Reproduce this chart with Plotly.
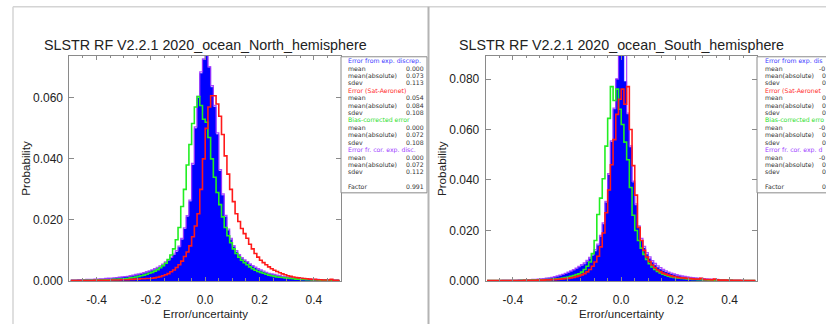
import plotly.graph_objects as go

W, H = 826, 331

# ---------------- data ----------------
bin_centers = [round(-0.495 + 0.01 * i, 3) for i in range(100)]

north_title = "SLSTR RF V2.2.1 2020_ocean_North_hemisphere"
south_title = "SLSTR RF V2.2.1 2020_ocean_South_hemisphere"

x_tickvals = [-0.4, -0.2, 0.0, 0.2, 0.4]
x_ticktext = ["-0.4", "-0.2", "0.0", "0.2", "0.4"]
north_y_tickvals = [0.0, 0.02, 0.04, 0.06]
north_y_ticktext = ["0.000", "0.020", "0.040", "0.060"]
south_y_tickvals = [0.0, 0.02, 0.04, 0.06, 0.08]
south_y_ticktext = ["0.000", "0.020", "0.040", "0.060", "0.080"]

north_blue = [
    0.0002, 0.0002, 0.0002, 0.0003, 0.0003, 0.0003, 0.0004, 0.0004, 0.0004, 0.0005,
    0.0005, 0.0006, 0.0006, 0.0007, 0.0008, 0.0008, 0.0009, 0.0010, 0.0011, 0.0012,
    0.0013, 0.0014, 0.0015, 0.0017, 0.0019, 0.0021, 0.0023, 0.0025, 0.0028, 0.0031,
    0.0034, 0.0037, 0.0041, 0.0046, 0.0052, 0.0059, 0.0066, 0.0075, 0.0085, 0.0095,
    0.0110, 0.0135, 0.0170, 0.0210, 0.0260, 0.0380, 0.0500, 0.0600, 0.0680, 0.0725,
    0.0760, 0.0700, 0.0635, 0.0570, 0.0480, 0.0360, 0.0280, 0.0210, 0.0165, 0.0135,
    0.0112, 0.0095, 0.0083, 0.0073, 0.0066, 0.0061, 0.0053, 0.0047, 0.0042, 0.0037,
    0.0033, 0.0029, 0.0026, 0.0023, 0.0021, 0.0019, 0.0017, 0.0015, 0.0013, 0.0012,
    0.0011, 0.0010, 0.0009, 0.0008, 0.0007, 0.0007, 0.0006, 0.0005, 0.0005, 0.0004,
    0.0004, 0.0004, 0.0003, 0.0003, 0.0003, 0.0002, 0.0002, 0.0002, 0.0002, 0.0001,
]
north_purple = [
    0.0003, 0.0003, 0.0003, 0.0004, 0.0004, 0.0004, 0.0005, 0.0005, 0.0005, 0.0006,
    0.0006, 0.0007, 0.0007, 0.0008, 0.0009, 0.0009, 0.0010, 0.0011, 0.0012, 0.0013,
    0.0014, 0.0015, 0.0017, 0.0019, 0.0021, 0.0023, 0.0025, 0.0027, 0.0030, 0.0033,
    0.0036, 0.0040, 0.0044, 0.0049, 0.0055, 0.0062, 0.0069, 0.0078, 0.0088, 0.0099,
    0.0114, 0.0139, 0.0174, 0.0214, 0.0265, 0.0385, 0.0505, 0.0605, 0.0685, 0.0728,
    0.0758, 0.0702, 0.0640, 0.0575, 0.0485, 0.0365, 0.0285, 0.0215, 0.0170, 0.0139,
    0.0116, 0.0099, 0.0086, 0.0076, 0.0069, 0.0063, 0.0056, 0.0050, 0.0045, 0.0040,
    0.0036, 0.0032, 0.0028, 0.0025, 0.0023, 0.0021, 0.0019, 0.0017, 0.0015, 0.0014,
    0.0012, 0.0011, 0.0010, 0.0009, 0.0008, 0.0008, 0.0007, 0.0006, 0.0006, 0.0005,
    0.0005, 0.0005, 0.0004, 0.0004, 0.0004, 0.0003, 0.0003, 0.0003, 0.0003, 0.0002,
]
north_green = [
    0.0001, 0.0001, 0.0001, 0.0001, 0.0001, 0.0002, 0.0002, 0.0002, 0.0002, 0.0002,
    0.0003, 0.0003, 0.0003, 0.0004, 0.0004, 0.0004, 0.0005, 0.0005, 0.0006, 0.0006,
    0.0007, 0.0008, 0.0010, 0.0011, 0.0013, 0.0015, 0.0017, 0.0019, 0.0022, 0.0025,
    0.0028, 0.0032, 0.0037, 0.0043, 0.0050, 0.0058, 0.0070, 0.0085, 0.0105, 0.0135,
    0.0175, 0.0244, 0.0300, 0.0380, 0.0447, 0.0516, 0.0570, 0.0604, 0.0575, 0.0530,
    0.0520, 0.0470, 0.0400, 0.0340, 0.0290, 0.0250, 0.0210, 0.0175, 0.0148, 0.0125,
    0.0105, 0.0090, 0.0078, 0.0068, 0.0060, 0.0053, 0.0046, 0.0040, 0.0035, 0.0031,
    0.0028, 0.0025, 0.0022, 0.0019, 0.0017, 0.0015, 0.0013, 0.0012, 0.0011, 0.0010,
    0.0009, 0.0008, 0.0007, 0.0006, 0.0006, 0.0005, 0.0005, 0.0004, 0.0004, 0.0003,
    0.0003, 0.0003, 0.0002, 0.0002, 0.0002, 0.0002, 0.0001, 0.0001, 0.0001, 0.0001,
]
north_red = [
    0.0001, 0.0001, 0.0001, 0.0001, 0.0001, 0.0001, 0.0001, 0.0001, 0.0001, 0.0002,
    0.0002, 0.0002, 0.0002, 0.0002, 0.0002, 0.0003, 0.0003, 0.0003, 0.0003, 0.0004,
    0.0004, 0.0004, 0.0005, 0.0005, 0.0006, 0.0006, 0.0007, 0.0007, 0.0008, 0.0008,
    0.0009, 0.0010, 0.0012, 0.0014, 0.0017, 0.0020, 0.0024, 0.0030, 0.0036, 0.0044,
    0.0053, 0.0065, 0.0080, 0.0095, 0.0115, 0.0145, 0.0180, 0.0220, 0.0300, 0.0400,
    0.0500, 0.0570, 0.0607, 0.0607, 0.0580, 0.0540, 0.0480, 0.0410, 0.0350, 0.0300,
    0.0260, 0.0220, 0.0195, 0.0172, 0.0155, 0.0140, 0.0120, 0.0105, 0.0090, 0.0078,
    0.0068, 0.0060, 0.0053, 0.0046, 0.0040, 0.0035, 0.0031, 0.0027, 0.0023, 0.0020,
    0.0017, 0.0015, 0.0013, 0.0011, 0.0010, 0.0009, 0.0008, 0.0007, 0.0006, 0.0005,
    0.0005, 0.0004, 0.0004, 0.0003, 0.0003, 0.0003, 0.0005, 0.0002, 0.0002, 0.0001,
]

south_blue = [
    0.0001, 0.0001, 0.0001, 0.0001, 0.0001, 0.0001, 0.0002, 0.0002, 0.0002, 0.0002,
    0.0002, 0.0002, 0.0003, 0.0003, 0.0003, 0.0004, 0.0004, 0.0005, 0.0005, 0.0006,
    0.0007, 0.0008, 0.0010, 0.0011, 0.0013, 0.0015, 0.0018, 0.0021, 0.0024, 0.0028,
    0.0032, 0.0037, 0.0042, 0.0048, 0.0054, 0.0060, 0.0066, 0.0076, 0.0088, 0.0100,
    0.0118, 0.0140, 0.0175, 0.0225, 0.0310, 0.0420, 0.0550, 0.0680, 0.0800, 0.0950,
    0.0920, 0.0790, 0.0660, 0.0530, 0.0390, 0.0300, 0.0210, 0.0160, 0.0130, 0.0105,
    0.0088, 0.0073, 0.0062, 0.0053, 0.0046, 0.0040, 0.0035, 0.0031, 0.0027, 0.0024,
    0.0021, 0.0019, 0.0017, 0.0015, 0.0013, 0.0012, 0.0011, 0.0010, 0.0009, 0.0008,
    0.0007, 0.0006, 0.0006, 0.0005, 0.0005, 0.0004, 0.0004, 0.0003, 0.0003, 0.0003,
    0.0003, 0.0002, 0.0002, 0.0002, 0.0002, 0.0002, 0.0001, 0.0001, 0.0001, 0.0001,
]
south_purple = [
    0.0002, 0.0002, 0.0002, 0.0002, 0.0002, 0.0002, 0.0003, 0.0003, 0.0003, 0.0003,
    0.0003, 0.0003, 0.0004, 0.0004, 0.0004, 0.0005, 0.0005, 0.0006, 0.0006, 0.0007,
    0.0008, 0.0009, 0.0011, 0.0012, 0.0014, 0.0017, 0.0020, 0.0023, 0.0026, 0.0030,
    0.0035, 0.0040, 0.0045, 0.0051, 0.0058, 0.0064, 0.0071, 0.0081, 0.0093, 0.0106,
    0.0124, 0.0146, 0.0180, 0.0230, 0.0315, 0.0425, 0.0555, 0.0685, 0.0800, 0.0930,
    0.0950, 0.0900, 0.0665, 0.0535, 0.0395, 0.0305, 0.0218, 0.0168, 0.0137, 0.0112,
    0.0095, 0.0080, 0.0069, 0.0060, 0.0053, 0.0046, 0.0040, 0.0035, 0.0031, 0.0028,
    0.0025, 0.0022, 0.0020, 0.0018, 0.0016, 0.0014, 0.0013, 0.0012, 0.0011, 0.0010,
    0.0009, 0.0008, 0.0007, 0.0007, 0.0006, 0.0006, 0.0005, 0.0005, 0.0004, 0.0004,
    0.0004, 0.0003, 0.0003, 0.0003, 0.0003, 0.0002, 0.0002, 0.0002, 0.0002, 0.0002,
]
south_green = [
    0.0001, 0.0001, 0.0001, 0.0001, 0.0001, 0.0001, 0.0001, 0.0001, 0.0001, 0.0001,
    0.0001, 0.0001, 0.0001, 0.0002, 0.0002, 0.0002, 0.0002, 0.0003, 0.0003, 0.0003,
    0.0004, 0.0004, 0.0005, 0.0005, 0.0006, 0.0007, 0.0008, 0.0009, 0.0011, 0.0013,
    0.0015, 0.0018, 0.0021, 0.0025, 0.0028, 0.0035, 0.0045, 0.0058, 0.0075, 0.0108,
    0.0160, 0.0263, 0.0328, 0.0405, 0.0534, 0.0644, 0.0770, 0.0715, 0.0760, 0.0680,
    0.0620, 0.0550, 0.0480, 0.0370, 0.0260, 0.0200, 0.0160, 0.0130, 0.0105, 0.0085,
    0.0068, 0.0055, 0.0045, 0.0038, 0.0032, 0.0027, 0.0023, 0.0019, 0.0016, 0.0014,
    0.0012, 0.0011, 0.0010, 0.0009, 0.0008, 0.0007, 0.0006, 0.0006, 0.0005, 0.0005,
    0.0004, 0.0004, 0.0003, 0.0003, 0.0003, 0.0003, 0.0002, 0.0002, 0.0002, 0.0002,
    0.0002, 0.0001, 0.0001, 0.0001, 0.0001, 0.0001, 0.0001, 0.0001, 0.0001, 0.0001,
]
south_red = [
    0.0001, 0.0001, 0.0001, 0.0001, 0.0001, 0.0001, 0.0001, 0.0001, 0.0001, 0.0001,
    0.0001, 0.0001, 0.0001, 0.0001, 0.0002, 0.0002, 0.0002, 0.0002, 0.0002, 0.0003,
    0.0003, 0.0003, 0.0004, 0.0004, 0.0005, 0.0005, 0.0006, 0.0007, 0.0008, 0.0009,
    0.0010, 0.0012, 0.0014, 0.0017, 0.0020, 0.0024, 0.0029, 0.0036, 0.0045, 0.0058,
    0.0075, 0.0098, 0.0135, 0.0190, 0.0270, 0.0360, 0.0460, 0.0560, 0.0660, 0.0720,
    0.0760, 0.0700, 0.0770, 0.0600, 0.0457, 0.0340, 0.0212, 0.0160, 0.0121, 0.0095,
    0.0077, 0.0063, 0.0052, 0.0043, 0.0037, 0.0031, 0.0027, 0.0023, 0.0020, 0.0017,
    0.0015, 0.0013, 0.0012, 0.0011, 0.0010, 0.0009, 0.0008, 0.0007, 0.0007, 0.0010,
    0.0006, 0.0005, 0.0005, 0.0004, 0.0007, 0.0004, 0.0003, 0.0003, 0.0003, 0.0002,
    0.0002, 0.0002, 0.0002, 0.0002, 0.0001, 0.0001, 0.0001, 0.0001, 0.0001, 0.0001,
]

# stats box texts (right panel is cut by the page edge in the reference: only the visible part)
stat_labels = ["mean", "mean(absolute)", "sdev"]
north_headings = ["Error from exp. discrep.", "Error (Sat-Aeronet)",
                  "Bias-corrected error", "Error fr. cor. exp. disc."]
north_stats = [["0.000", "0.073", "0.113"], ["0.054", "0.084", "0.108"],
               ["0.000", "0.072", "0.108"], ["0.000", "0.072", "0.112"]]
north_factor = "0.991"
south_headings = ["Error from exp. dis", "Error (Sat-Aeronet",
                  "Bias-corrected erro", "Error fr. cor. exp. d"]
south_stats = [["-0", "0", "0"], ["0", "0", "0"], ["-0", "0", "0"], ["-0", "0", "0"]]
south_factor = "0"

# ---------------- style ----------------
BLUE = "#0000ff"
PURPLE = "#a030ff"
GREEN = "#22ee22"
RED = "#ff1a1a"
HEAD_COLORS = ["#3a3aff", "#ff2a2a", "#2ee02e", "#a040ff"]
AXIS_COLOR = "#8a8a8a"
TEXT = "#222222"
FONT = "Liberation Sans, Arial, sans-serif"
SMALL_FONT = "DejaVu Sans, sans-serif"
SMALL = 6.2


def px(x):
    return x / W


def py(y):
    return 1 - y / H


fig = go.Figure()

panels = [
    dict(xa="x", ya="y", x0=69.4, x1=341.0, ymax=0.0738,
         blue=north_blue, purple=north_purple, green=north_green, red=north_red,
         title=north_title, tv=north_y_tickvals, tt=north_y_ticktext,
         box0=341, box1=427, lab_x=347, val_x=425, val_anchor="right",
         heads=north_headings, stats=north_stats, factor=north_factor),
    dict(xa="x2", ya="y2", x0=485.7, x1=756.7, ymax=0.0892,
         blue=south_blue, purple=south_purple, green=south_green, red=south_red,
         title=south_title, tv=south_y_tickvals, tt=south_y_ticktext,
         box0=757, box1=860, lab_x=763.5, val_x=820.5, val_anchor="left",
         heads=south_headings, stats=south_stats, factor=south_factor),
]

annotations = []
shapes = []
layout_axes = {}


def small_text(text, x, y, anchor, color):
    return dict(text=text, x=px(x), y=py(y), xref="paper", yref="paper",
                xanchor=anchor, yanchor="middle", showarrow=False, borderpad=0,
                font=dict(family=SMALL_FONT, size=SMALL, color=color))


for i, p in enumerate(panels):
    xa, ya = p["xa"], p["ya"]
    fig.add_trace(go.Scatter(x=bin_centers, y=p["blue"], xaxis=xa, yaxis=ya,
                             mode="lines", fill="tozeroy", fillcolor=BLUE,
                             line=dict(shape="hvh", color=BLUE, width=0.5),
                             showlegend=False, hoverinfo="skip"))
    fig.add_trace(go.Scatter(x=bin_centers, y=p["purple"], xaxis=xa, yaxis=ya,
                             mode="lines", line=dict(shape="hvh", color=PURPLE, width=1.3),
                             opacity=0.85, showlegend=False, hoverinfo="skip"))
    fig.add_trace(go.Scatter(x=bin_centers, y=p["green"], xaxis=xa, yaxis=ya,
                             mode="lines", line=dict(shape="hvh", color=GREEN, width=1.6),
                             showlegend=False, hoverinfo="skip"))
    fig.add_trace(go.Scatter(x=bin_centers, y=p["red"], xaxis=xa, yaxis=ya,
                             mode="lines", line=dict(shape="hvh", color=RED, width=1.6),
                             showlegend=False, hoverinfo="skip"))

    xkey = "xaxis" if i == 0 else "xaxis2"
    ykey = "yaxis" if i == 0 else "yaxis2"
    layout_axes[xkey] = dict(
        domain=[px(p["x0"]), px(p["x1"])], range=[-0.5, 0.5], anchor=ya,
        tickvals=x_tickvals, ticktext=x_ticktext, ticks="inside", ticklen=4,
        tickcolor=AXIS_COLOR, showline=True, linecolor=AXIS_COLOR, linewidth=1,
        mirror="ticks", showgrid=False, zeroline=False,
        minor=dict(dtick=0.05, tick0=0, ticks="inside", ticklen=2.5, tickcolor=AXIS_COLOR),
        tickfont=dict(family=FONT, size=12, color=TEXT), ticklabelstandoff=8,
    )
    layout_axes[ykey] = dict(
        domain=[py(287), py(57)], range=[0, p["ymax"]], anchor=xa,
        tickvals=p["tv"], ticktext=p["tt"], ticks="inside", ticklen=5,
        tickcolor=AXIS_COLOR, showline=True, linecolor=AXIS_COLOR, linewidth=1,
        mirror="ticks", showgrid=False, zeroline=False,
        tickfont=dict(family=FONT, size=12, color=TEXT), ticklabelstandoff=3,
    )

    cx = (p["x0"] + p["x1"]) / 2
    annotations.append(dict(text=p["title"], x=px(cx), y=py(46), xref="paper", yref="paper",
                            xanchor="center", yanchor="middle", showarrow=False,
                            font=dict(family=FONT, size=14.3, color=TEXT)))
    annotations.append(dict(text="Error/uncertainty", x=px(cx), y=py(321), xref="paper",
                            yref="paper", xanchor="center", yanchor="middle", showarrow=False,
                            borderpad=0, borderwidth=0,
                            font=dict(family=FONT, size=11.5, color=TEXT)))
    annotations.append(dict(text="Probability", x=px(p["x0"] - 44), y=py(172), xref="paper",
                            yref="paper", xanchor="center", yanchor="middle", showarrow=False,
                            textangle=-90, font=dict(family=FONT, size=11.7, color=TEXT)))

    # stats box
    shapes.append(dict(type="rect", xref="paper", yref="paper",
                       x0=px(p["box0"]), x1=px(p["box1"]), y0=py(197), y1=py(58),
                       line=dict(color=AXIS_COLOR, width=1), fillcolor="white", layer="above"))
    row = 0
    step = 7.57
    for k, head in enumerate(p["heads"]):
        annotations.append(small_text(head, p["lab_x"], 62 + step * row, "left", HEAD_COLORS[k]))
        row += 1
        for lab, val in zip(stat_labels, p["stats"][k]):
            y = 62 + step * row
            annotations.append(small_text(lab, p["lab_x"], y, "left", "#333333"))
            vx = p["val_x"] - (2.5 if (p["val_anchor"] == "left" and val.startswith("-")) else 0)
            annotations.append(small_text(val, vx, y, p["val_anchor"], "#333333"))
            row += 1
    row += 1
    y = 62 + step * row
    annotations.append(small_text("Factor", p["lab_x"], y, "left", "#333333"))
    annotations.append(small_text(p["factor"], p["val_x"], y, p["val_anchor"], "#333333"))

# page frame lines
shapes.append(dict(type="line", xref="paper", yref="paper", x0=px(13), x1=px(W),
                   y0=py(7), y1=py(7), line=dict(color="#d4d4d4", width=1.5)))
shapes.append(dict(type="line", xref="paper", yref="paper", x0=px(13), x1=px(13),
                   y0=py(7), y1=py(H), line=dict(color="#d4d4d4", width=1.5)))
shapes.append(dict(type="line", xref="paper", yref="paper", x0=px(428.5), x1=px(428.5),
                   y0=py(7), y1=py(H), line=dict(color="#b4b4b4", width=2)))

fig.update_layout(
    width=W, height=H, margin=dict(l=0, r=0, t=0, b=0, pad=0),
    paper_bgcolor="white", plot_bgcolor="white", showlegend=False,
    annotations=annotations, shapes=shapes, **layout_axes,
)

fig.write_html("out.html")
